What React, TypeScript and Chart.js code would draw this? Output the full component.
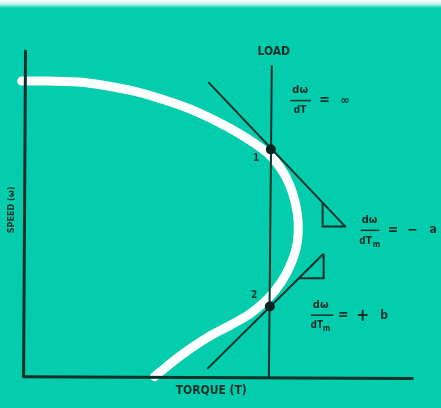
import React, { useEffect, useRef } from "react";
import { Chart, registerables } from "chart.js";
Chart.register(...registerables);

// Speed-torque curve (torque, speed in arbitrary units)
const curveTorque = [17, 45, 75, 105, 135, 165, 195, 222, 248, 270, 285, 294, 299, 300, 297, 288, 277, 265, 250, 231, 207, 183, 165, 153];
const curveSpeed = [330, 330, 329, 325, 319, 310, 299, 286, 271, 255, 236, 216, 195, 175, 155, 133, 116, 103, 91, 80, 67, 51, 37, 27];

const yAxisTorque = [21, 19];
const yAxisSpeed = [362, 26];
const xAxisTorque = [19, 418];
const xAxisSpeed = [27, 25];

const loadTorque = [273, 270];
const loadSpeed = [346, 26];

const tangent1Torque = [208, 348];
const tangent1Speed = [329, 181];
const tangent2Torque = [207, 326];
const tangent2Speed = [35, 153];

const triangle1Torque = [325, 325, 349];
const triangle1Speed = [205, 181, 181];
const triangle2Torque = [326, 326, 300];
const triangle2Speed = [153, 128, 128];

const pointTorque = [272, 271];
const pointSpeed = [260, 99];

type Txt = { t: string; x: number; y: number; size: number; rot?: boolean };
const labels: Txt[] = [
  { t: "LOAD", x: 275, y: 360, size: 12 },
  { t: "TORQUE (T)", x: 211, y: 12, size: 12 },
  { t: "SPEED (ω)", x: 7, y: 198, size: 9, rot: true },
  { t: "1", x: 257, y: 251, size: 10 },
  { t: "2", x: 255, y: 110, size: 10 },
  { t: "dω", x: 302, y: 321, size: 11 },
  { t: "dT", x: 302, y: 300, size: 10 },
  { t: "=", x: 327, y: 310, size: 14 },
  { t: "∞", x: 348, y: 310, size: 12 },
  { t: "dω", x: 373, y: 187, size: 11 },
  { t: "dT", x: 369, y: 166, size: 10 },
  { t: "m", x: 380, y: 162, size: 8 },
  { t: "=", x: 397, y: 177, size: 14 },
  { t: "−", x: 417, y: 177, size: 14 },
  { t: "a", x: 438, y: 177, size: 12 },
  { t: "dω", x: 323, y: 100, size: 11 },
  { t: "dT", x: 319, y: 80, size: 10 },
  { t: "m", x: 329, y: 76, size: 8 },
  { t: "=", x: 346, y: 90, size: 14 },
  { t: "+", x: 366, y: 89, size: 17 },
  { t: "b", x: 388, y: 89, size: 12 },
];
// fraction bars: [x1, x2, y]
const bars = [
  [292, 313, 310],
  [364, 383, 177],
  [313, 336, 90],
];

const INK = "#0c3128";
const TEAL = "rgb(4,205,174)";
const FONT = '"DejaVu Sans Condensed", "Liberation Sans Narrow", sans-serif';

const zip = (xs: number[], ys: number[]) => xs.map((x, i) => ({ x, y: ys[i] }));

const bgPlugin = {
  id: "bg",
  beforeDraw(chart: any) {
    const { ctx, width, height } = chart;
    ctx.save();
    ctx.fillStyle = TEAL;
    ctx.fillRect(0, 0, width, height);
    const g = ctx.createLinearGradient(0, 0, 0, 8);
    g.addColorStop(0, "rgba(255,255,255,1)");
    g.addColorStop(0.5, "rgba(240,255,250,0.8)");
    g.addColorStop(1, "rgba(255,255,255,0)");
    ctx.fillStyle = g;
    ctx.fillRect(0, 0, width, 8);
    ctx.restore();
  },
};

const textPlugin = {
  id: "texts",
  afterDatasetsDraw(chart: any) {
    const { ctx } = chart;
    const sx = chart.scales.x;
    const sy = chart.scales.y;
    ctx.save();
    ctx.fillStyle = INK;
    ctx.strokeStyle = INK;
    ctx.textAlign = "center";
    ctx.textBaseline = "middle";
    for (const l of labels) {
      const px = sx.getPixelForValue(l.x);
      const py = sy.getPixelForValue(l.y);
      ctx.font = `bold ${l.size}px ${FONT}`;
      if (l.rot) {
        ctx.save();
        ctx.translate(px, py);
        ctx.rotate(-Math.PI / 2);
        ctx.fillText(l.t, 0, 0);
        ctx.restore();
      } else {
        ctx.fillText(l.t, px, py);
      }
    }
    ctx.lineWidth = 1.5;
    for (const b of bars) {
      ctx.beginPath();
      ctx.moveTo(sx.getPixelForValue(b[0]), sy.getPixelForValue(b[2]));
      ctx.lineTo(sx.getPixelForValue(b[1]), sy.getPixelForValue(b[2]));
      ctx.stroke();
    }
    ctx.restore();
  },
};

const lineDs = (data: any[], width: number, order: number, color = INK) => ({
  data,
  showLine: true,
  borderColor: color,
  borderWidth: width,
  pointRadius: 0,
  tension: 0,
  fill: false,
  order,
});

export default function App() {
  const ref = useRef<HTMLCanvasElement>(null);
  useEffect(() => {
    document.body.style.margin = "0";
    const chart = new Chart(ref.current!, {
      type: "scatter",
      data: {
        datasets: [
          {
            ...lineDs(zip(curveTorque, curveSpeed), 9, 10, "#ffffff"),
            tension: 0.35,
            borderCapStyle: "round",
          } as any,
          lineDs(zip(yAxisTorque, yAxisSpeed), 3, 5),
          lineDs(zip(xAxisTorque, xAxisSpeed), 3, 5),
          lineDs(zip(loadTorque, loadSpeed), 2, 4),
          lineDs(zip(tangent1Torque, tangent1Speed), 2, 4),
          lineDs(zip(tangent2Torque, tangent2Speed), 2, 4),
          lineDs(zip(triangle1Torque, triangle1Speed), 2, 4),
          lineDs(zip(triangle2Torque, triangle2Speed), 2, 4),
          {
            data: zip(pointTorque, pointSpeed),
            showLine: false,
            pointRadius: 5,
            pointBackgroundColor: "#06241d",
            pointBorderColor: "#06241d",
            pointBorderWidth: 0,
            order: 1,
          } as any,
        ],
      },
      options: {
        animation: false,
        responsive: false,
        devicePixelRatio: 1,
        events: [],
        layout: { padding: 0 },
        plugins: { legend: { display: false }, tooltip: { enabled: false } },
        scales: {
          x: { type: "linear", min: 0, max: 441, display: false },
          y: { type: "linear", min: 0, max: 408, display: false },
        },
      },
      plugins: [bgPlugin, textPlugin],
    });
    return () => chart.destroy();
  }, []);
  return <canvas ref={ref} width={441} height={408} style={{ display: "block" }} />;
}
